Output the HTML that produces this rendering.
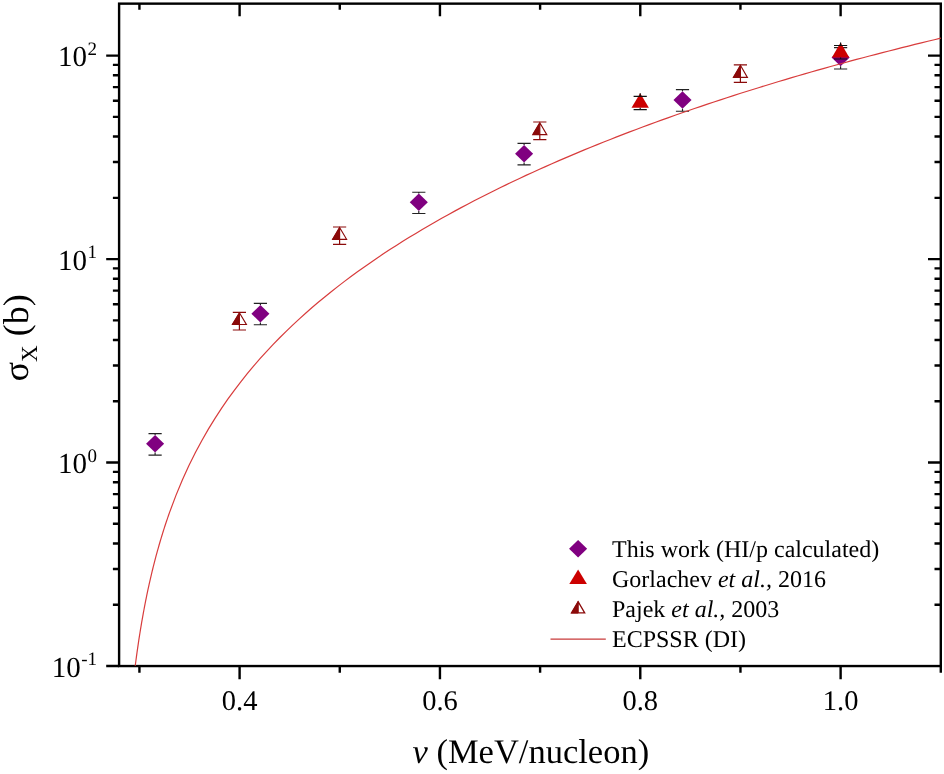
<!DOCTYPE html>
<html><head><meta charset="utf-8"><style>html,body{margin:0;padding:0;background:#fff;width:944px;height:774px;overflow:hidden}svg{display:block;text-rendering:geometricPrecision;will-change:transform}</style></head><body>
<svg width="944" height="774" viewBox="0 0 944 774">
<rect width="944" height="774" fill="#fff"/>
<path d="M106.20 666.04H119.1 M106.20 462.56H119.1 M928.00 462.56H940.8 M106.20 259.08H119.1 M928.00 259.08H940.8 M106.20 55.60H119.1 M928.00 55.60H940.8 M112.90 604.79H119.1 M934.50 604.79H940.8 M112.90 568.96H119.1 M934.50 568.96H940.8 M112.90 543.53H119.1 M934.50 543.53H940.8 M112.90 523.81H119.1 M934.50 523.81H940.8 M112.90 507.70H119.1 M934.50 507.70H940.8 M112.90 494.08H119.1 M934.50 494.08H940.8 M112.90 482.28H119.1 M934.50 482.28H940.8 M112.90 471.87H119.1 M934.50 471.87H940.8 M112.90 401.31H119.1 M934.50 401.31H940.8 M112.90 365.48H119.1 M934.50 365.48H940.8 M112.90 340.05H119.1 M934.50 340.05H940.8 M112.90 320.33H119.1 M934.50 320.33H940.8 M112.90 304.22H119.1 M934.50 304.22H940.8 M112.90 290.60H119.1 M934.50 290.60H940.8 M112.90 278.80H119.1 M934.50 278.80H940.8 M112.90 268.39H119.1 M934.50 268.39H940.8 M112.90 197.83H119.1 M934.50 197.83H940.8 M112.90 162.00H119.1 M934.50 162.00H940.8 M112.90 136.57H119.1 M934.50 136.57H940.8 M112.90 116.85H119.1 M934.50 116.85H940.8 M112.90 100.74H119.1 M934.50 100.74H940.8 M112.90 87.12H119.1 M934.50 87.12H940.8 M112.90 75.32H119.1 M934.50 75.32H940.8 M112.90 64.91H119.1 M934.50 64.91H940.8 M139.43 666.05V672.75 M139.43 3.64V9.64 M239.60 666.05V679.25 M239.60 3.64V16.24 M339.77 666.05V672.75 M339.77 3.64V9.64 M439.94 666.05V679.25 M439.94 3.64V16.24 M540.11 666.05V672.75 M540.11 3.64V9.64 M640.28 666.05V679.25 M640.28 3.64V16.24 M740.45 666.05V672.75 M740.45 3.64V9.64 M840.62 666.05V679.25 M840.62 3.64V16.24 M940.79 666.05V672.75" stroke="#000" stroke-width="2.4" fill="none"/>
<rect x="119.1" y="3.64" width="821.70" height="662.41" fill="none" stroke="#000" stroke-width="2.4"/>
<path d="M232.80 312.3H246.00M232.80 330.0H246.00M239.4 312.3V312.3M239.4 324.5V330.0" stroke="#8b0a0a" stroke-width="1.2" fill="none"/>
<path d="M239.4 312.3L239.4 324.5L231.9 324.5Z" fill="#8b0a0a"/>
<path d="M239.4 312.8L246.4 324.5L232.4 324.5ZM239.4 312.3V324.5" fill="none" stroke="#8b0a0a" stroke-width="1.15"/>
<path d="M333.00 227.0H346.20M333.00 244.4H346.20M339.6 227.0V227.0M339.6 239.3V244.4" stroke="#8b0a0a" stroke-width="1.2" fill="none"/>
<path d="M339.6 227.0L339.6 239.3L332.1 239.3Z" fill="#8b0a0a"/>
<path d="M339.6 227.5L346.6 239.3L332.6 239.3ZM339.6 227.0V239.3" fill="none" stroke="#8b0a0a" stroke-width="1.15"/>
<path d="M533.20 122.0H546.40M533.20 139.7H546.40M539.8 122.0V122.2M539.8 134.6V139.7" stroke="#8b0a0a" stroke-width="1.2" fill="none"/>
<path d="M539.8 122.2L539.8 134.6L532.3 134.6Z" fill="#8b0a0a"/>
<path d="M539.8 122.7L546.8 134.6L532.8 134.6ZM539.8 122.2V134.6" fill="none" stroke="#8b0a0a" stroke-width="1.15"/>
<path d="M733.80 64.8H747.00M733.80 82.3H747.00M740.4 64.8V64.8M740.4 77.4V82.3" stroke="#8b0a0a" stroke-width="1.2" fill="none"/>
<path d="M740.4 64.8L740.4 77.4L732.9 77.4Z" fill="#8b0a0a"/>
<path d="M740.4 65.3L747.4 77.4L733.4 77.4ZM740.4 64.8V77.4" fill="none" stroke="#8b0a0a" stroke-width="1.15"/>
<path d="M155.1 435.05L164.15 443.8L155.1 452.55L146.04999999999998 443.8Z" fill="#800080"/>
<path d="M148.50 433.6H161.70M148.50 455.1H161.70M155.1 433.6V435.05M155.1 452.55V455.1" stroke="#222" stroke-width="1.15" fill="none"/>
<path d="M260.4 305.05L269.45 313.8L260.4 322.55L251.34999999999997 313.8Z" fill="#800080"/>
<path d="M253.80 303.3H267.00M253.80 324.7H267.00M260.4 303.3V305.05M260.4 322.55V324.7" stroke="#222" stroke-width="1.15" fill="none"/>
<path d="M418.8 193.45L427.85 202.2L418.8 210.95L409.75 202.2Z" fill="#800080"/>
<path d="M412.20 192.2H425.40M412.20 213.5H425.40M418.8 192.2V193.45M418.8 210.95V213.5" stroke="#222" stroke-width="1.15" fill="none"/>
<path d="M524.1 144.95L533.15 153.7L524.1 162.45L515.0500000000001 153.7Z" fill="#800080"/>
<path d="M517.50 143.4H530.70M517.50 164.8H530.70M524.1 143.4V144.95M524.1 162.45V164.8" stroke="#222" stroke-width="1.15" fill="none"/>
<path d="M682.5 91.15L691.55 99.9L682.5 108.65L673.45 99.9Z" fill="#800080"/>
<path d="M675.90 89.6H689.10M675.90 111.2H689.10M682.5 89.6V91.15M682.5 108.65V111.2" stroke="#222" stroke-width="1.15" fill="none"/>
<path d="M840.6 48.85L849.65 57.6L840.6 66.35L831.5500000000001 57.6Z" fill="#800080"/>
<path d="M834.00 47.6H847.20M834.00 69.0H847.20M840.6 47.6V48.85M840.6 66.35V69.0" stroke="#222" stroke-width="1.15" fill="none"/>
<polyline points="135.24,665.71 135.83,661.23 136.41,656.88 136.99,652.66 137.57,648.56 138.15,644.58 138.73,640.70 139.31,636.91 139.89,633.23 140.47,629.63 141.05,626.13 141.63,622.70 142.21,619.35 142.79,616.08 143.37,612.87 143.95,609.74 144.53,606.67 145.11,603.66 145.69,600.71 146.27,597.82 146.85,594.99 147.43,592.21 148.01,589.48 148.59,586.80 149.17,584.16 149.75,581.57 150.33,579.03 150.91,576.53 151.49,574.07 152.07,571.64 152.65,569.26 153.23,566.92 153.81,564.61 154.39,562.33 154.97,560.09 155.55,557.88 156.13,555.70 156.71,553.56 157.30,551.44 157.88,549.35 158.46,547.29 159.04,545.26 159.62,543.26 160.20,541.28 160.78,539.32 161.36,537.39 161.94,535.49 162.52,533.61 163.10,531.75 163.68,529.91 164.26,528.09 164.84,526.30 165.42,524.52 166.00,522.77 166.58,521.04 167.16,519.32 167.74,517.62 168.32,515.95 168.90,514.29 169.48,512.64 175.96,495.37 182.44,479.80 188.93,465.60 195.41,452.55 201.89,440.45 208.37,429.17 214.85,418.59 221.33,408.64 227.82,399.22 234.30,390.29 240.78,381.78 247.26,373.66 253.74,365.89 260.22,358.44 266.70,351.28 273.19,344.38 279.67,337.73 286.15,331.31 292.63,325.09 299.11,319.07 305.59,313.23 312.08,307.55 318.56,302.04 325.04,296.68 331.52,291.45 338.00,286.36 344.48,281.39 350.97,276.54 357.45,271.81 363.93,267.17 370.41,262.64 376.89,258.21 383.37,253.87 389.86,249.61 396.34,245.44 402.82,241.35 409.30,237.33 415.78,233.39 422.26,229.52 428.74,225.72 435.23,221.99 441.71,218.31 448.19,214.70 454.67,211.14 461.15,207.65 467.63,204.20 474.12,200.81 480.60,197.47 487.08,194.19 493.56,190.94 500.04,187.75 506.52,184.60 513.01,181.49 519.49,178.43 525.97,175.41 532.45,172.43 538.93,169.48 545.41,166.58 551.89,163.71 558.38,160.88 564.86,158.09 571.34,155.33 577.82,152.60 584.30,149.91 590.78,147.25 597.27,144.62 603.75,142.02 610.23,139.45 616.71,136.91 623.19,134.40 629.67,131.91 636.16,129.46 642.64,127.03 649.12,124.63 655.60,122.26 662.08,119.91 668.56,117.58 675.04,115.28 681.53,113.01 688.01,110.76 694.49,108.53 700.97,106.32 707.45,104.14 713.93,101.98 720.42,99.84 726.90,97.72 733.38,95.63 739.86,93.55 746.34,91.50 752.82,89.46 759.31,87.45 765.79,85.45 772.27,83.48 778.75,81.52 785.23,79.59 791.71,77.67 798.20,75.77 804.68,73.88 811.16,72.02 817.64,70.17 824.12,68.34 830.60,66.53 837.08,64.74 843.57,62.96 850.05,61.20 856.53,59.45 863.01,57.72 869.49,56.01 875.97,54.31 882.46,52.63 888.94,50.96 895.42,49.31 901.90,47.68 908.38,46.05 914.86,44.45 921.35,42.86 927.83,41.28 934.31,39.72 940.79,38.17" fill="none" stroke="#d83c3c" stroke-width="1.2"/>
<path d="M640.2 93.3L648.9000000000001 107.8L631.5 107.8Z" fill="#cc0000"/>
<path d="M633.60 96.4H646.80M633.60 109.6H646.80M640.2 96.4V93.3M640.2 107.8V109.6" stroke="#111" stroke-width="1.15" fill="none"/>
<path d="M840.6 42.6L849.3000000000001 57.5L831.9 57.5Z" fill="#cc0000"/>
<path d="M834.00 45.5H847.20M834.00 59.0H847.20M840.6 45.5V42.6M840.6 57.5V59.0" stroke="#111" stroke-width="1.15" fill="none"/>
<path d="M578.1 539.95L587.15 548.7L578.1 557.45L569.0500000000001 548.7Z" fill="#800080"/>
<path d="M578.1 569.5L586.9 584L569.3 584Z" fill="#cc0000"/>
<path d="M578.1 601.1L578.1 613.5L570.9 613.5Z" fill="#8b0a0a"/>
<path d="M578.1 601.7L584.7 612.9L571.5 612.9ZM578.1 601.1V613.5" fill="none" stroke="#8b0a0a" stroke-width="1.3"/>
<path d="M550.5 639.2H605.8" stroke="#c83a3a" stroke-width="1.2"/>
<g font-family="Liberation Serif"  font-size="24" fill="#000">
<text x="612" y="556.7">This work (HI/p calculated)</text>
<text x="612" y="587.2">Gorlachev <tspan font-style="italic">et al.,</tspan> 2016</text>
<text x="612" y="616.7">Pajek <tspan font-style="italic">et al.,</tspan> 2003</text>
<text x="612" y="647.2">ECPSSR (DI)</text>
</g>
<g font-family="Liberation Serif"  font-size="28.5" fill="#000" text-anchor="middle">
<text x="239.60" y="709.8">0.4</text>
<text x="439.94" y="709.8">0.6</text>
<text x="640.28" y="709.8">0.8</text>
<text x="840.62" y="709.8">1.0</text>
</g>
<g font-family="Liberation Serif"  fill="#000">
<text x="97" y="66.30" text-anchor="end" font-size="29">10<tspan font-size="19" dx="0.4" dy="-11.6">2</tspan></text>
<text x="97" y="269.78" text-anchor="end" font-size="29">10<tspan font-size="19" dx="0.4" dy="-11.6">1</tspan></text>
<text x="97" y="473.26" text-anchor="end" font-size="29">10<tspan font-size="19" dx="0.4" dy="-11.6">0</tspan></text>
<text x="97" y="676.74" text-anchor="end" font-size="29">10<tspan font-size="19" dx="0.4" dy="-11.6">-1</tspan></text>
</g>
<text font-family="Liberation Serif"  font-size="34.5" x="412.5" y="763.3"><tspan font-style="italic">v</tspan> (MeV/nucleon)</text>
<g transform="translate(28.1 381.3) rotate(-90)"><text font-family="Liberation Serif"  font-size="36" x="0" y="0">σ<tspan font-size="23" dy="8.7">X</tspan><tspan dy="-8.7"> (b)</tspan></text></g>
</svg>
</body></html>
